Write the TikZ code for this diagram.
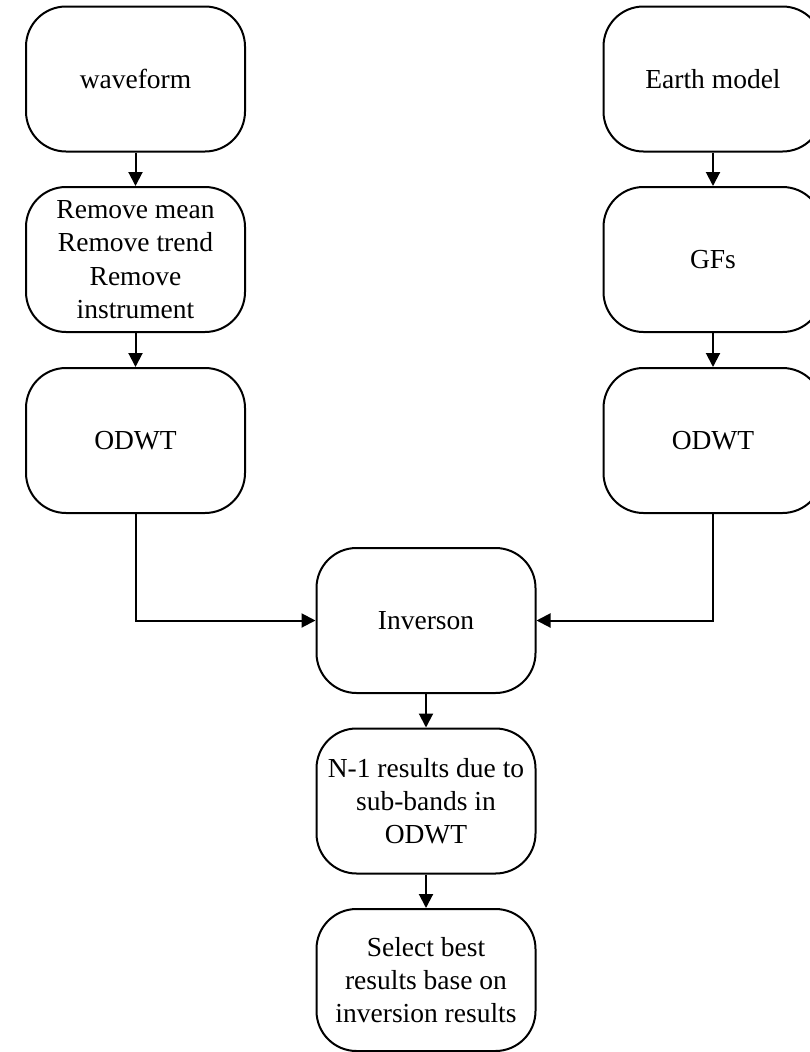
\documentclass[tikz,border=0pt]{standalone}
\usepackage{fontspec}
\setmainfont{Liberation Serif}
\usetikzlibrary{arrows.meta}

\tikzset{
  stepbox/.style={draw, line width=2pt, rounded corners=40pt,
    minimum width=219pt, minimum height=145pt, inner sep=2pt,
    align=center, font=\fontsize{27.5}{33.3}\selectfont},
  flow/.style={line width=2pt, -{Triangle[length=14pt,width=14pt]}}
}

\begin{document}
\begin{tikzpicture}[x=1pt, y=-1pt]
            \clip (0,0) rectangle (810,1052);
            % left column
            \node[stepbox] (wave) at (135.5,79) {waveform};
            \node[stepbox] (prep) at (135.5,259.5) {Remove mean\\Remove trend\\Remove\\instrument};
            \node[stepbox] (odwtL) at (135.5,440.5) {ODWT};
            % right column
            \node[stepbox] (earth) at (713,79) {Earth model};
            \node[stepbox] (gfs) at (713,259.5) {GFs};
            \node[stepbox] (odwtR) at (713,440.5) {ODWT};
            % middle column
            \node[stepbox] (inv) at (426,620.5) {Inverson};
            \node[stepbox] (nres) at (426,801) {N-1 results due to\\sub-bands in\\ODWT};
            \node[stepbox, minimum height=142pt] (best) at (426,980) {Select best\\results base on\\inversion results};
            \draw [flow] (wave) -- (prep);
            \draw [flow] (prep) -- (odwtL);
            \draw [flow] (earth) -- (gfs);
            \draw [flow] (gfs) -- (odwtR);
            \draw [flow] (odwtL) |- (inv);
            \draw [flow] (odwtR) |- (inv);
            \draw [flow] (inv) -- (nres);
            \draw [flow] (nres) -- (best);
        \end{tikzpicture}
\end{document}
